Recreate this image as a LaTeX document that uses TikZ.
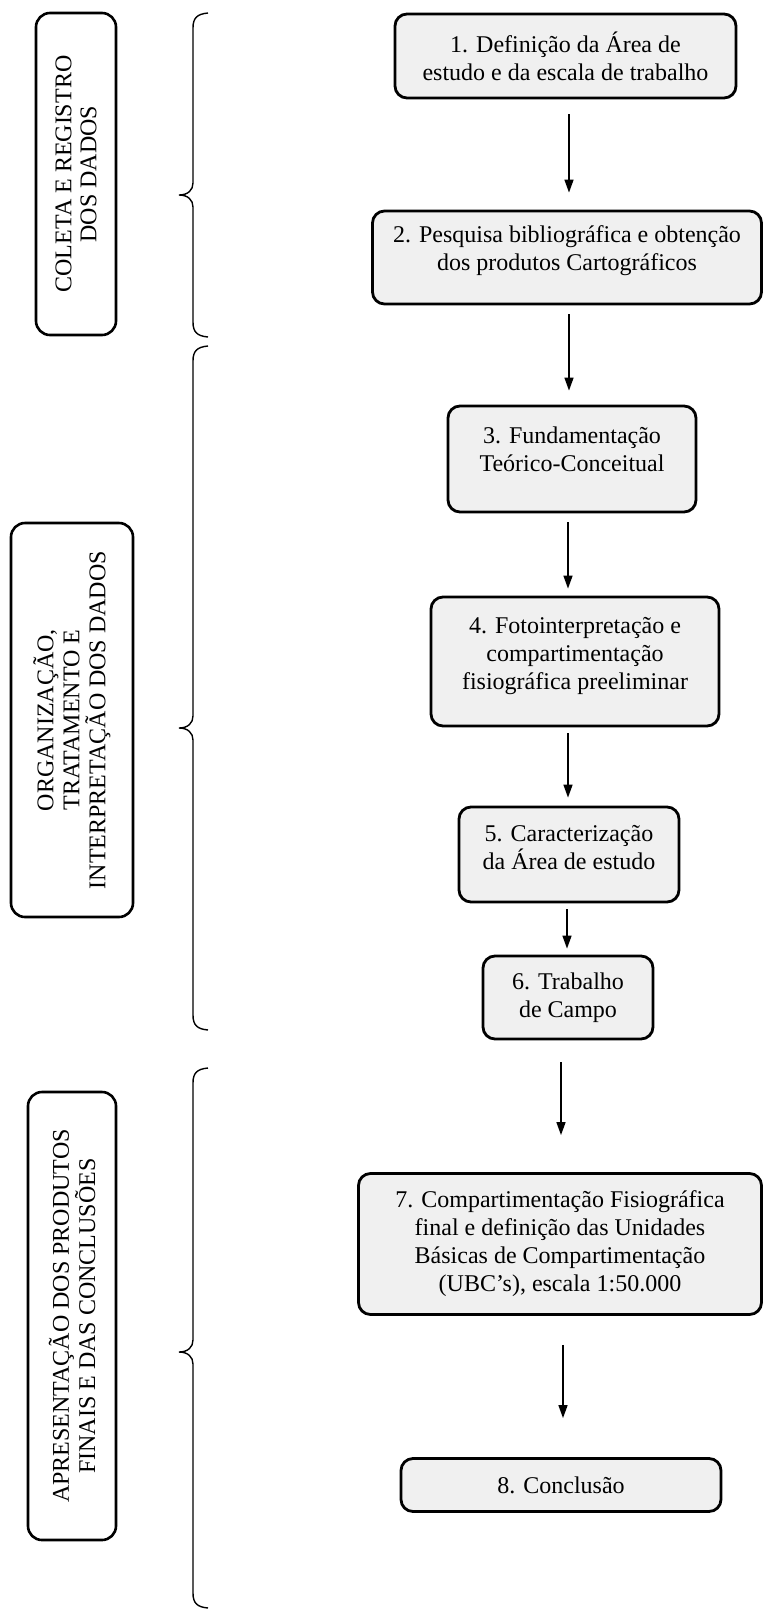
\documentclass[tikz,border=0pt]{standalone}
\usepackage{fontspec}
\setmainfont{Liberation Serif}
\usetikzlibrary{arrows.meta}
\tikzset{
  stepbox/.style={draw=black, line width=2.8pt, fill=gray!12, rounded corners=12pt,
    align=center, inner sep=2pt, font=\fontsize{24}{28}\selectfont},
  sidebox/.style={draw=black, line width=2.6pt, fill=white, rounded corners=14pt,
    align=center, inner sep=2pt, rotate=90},
  arr/.style={line width=1.5pt, -{Triangle[length=13pt,width=9pt]}},
  brc/.style={line width=1.4pt}
}
\newcommand\mybrace[3]{%
  \draw[brc] (208,#1) .. controls (197,#1+1) and (193,#1+5) .. (193,#1+15)
    -- (193,#2-12) .. controls (193,#2-5) and (188,#2) .. (179,#2)
    .. controls (188,#2) and (193,#2+5) .. (193,#2+12)
    -- (193,#3-15) .. controls (193,#3-5) and (197,#3-1) .. (208,#3);}
\begin{document}
\begin{tikzpicture}[x=1pt,y=-1pt]
\useasboundingbox (0,0) rectangle (764,1610);

% side boxes
\node[sidebox, minimum width=322pt, minimum height=80pt,
  font=\fontsize{24}{25}\selectfont] (lb1) at (76,174)
  {COLETA E REGISTRO\\DOS DADOS};
\node[sidebox, minimum width=394pt, minimum height=122pt,
  font=\fontsize{24}{26}\selectfont] (lb2) at (72,720)
  {ORGANIZAÇÃO,\\TRATAMENTO E\\INTERPRETAÇÃO DOS DADOS};
\node[sidebox, minimum width=448pt, minimum height=88pt,
  font=\fontsize{24}{24}\selectfont] (lb3) at (72,1316)
  {APRESENTAÇÃO DOS PRODUTOS\\FINAIS E DAS CONCLUSÕES};

% braces
\mybrace{13}{195}{337}
\mybrace{346}{728}{1030}
\mybrace{1068}{1352}{1608}

% step boxes
\node[stepbox, minimum width=341pt, minimum height=84pt] (b1) at (565.5,56)
  {1. Definição da Área de\\estudo e da escala de trabalho};
\node[stepbox, minimum width=389pt, minimum height=93pt, text depth=18pt] (b2) at (567,257.5)
  {2. Pesquisa bibliográfica e obtenção\\dos produtos Cartográficos};
\node[stepbox, minimum width=248pt, minimum height=106pt, text depth=20pt] (b3) at (572,459)
  {3. Fundamentação\\Teórico-Conceitual};
\node[stepbox, minimum width=288pt, minimum height=129pt, text depth=16pt] (b4) at (575,661.5)
  {4. Fotointerpretação e\\compartimentação\\fisiográfica preeliminar};
\node[stepbox, minimum width=220pt, minimum height=95pt, text depth=14pt] (b5) at (569,854.5)
  {5. Caracterização\\da Área de estudo};
\node[stepbox, minimum width=170pt, minimum height=83pt] (b6) at (568,997.5)
  {6. Trabalho\\de Campo};
\node[stepbox, minimum width=403pt, minimum height=141pt] (b7) at (560,1244)
  {7. Compartimentação Fisiográfica\\final e definição das Unidades\\Básicas de Compartimentação\\(UBC’s), escala 1:50.000};
\node[stepbox, minimum width=320pt, minimum height=53pt] (b8) at (561,1485)
  {8. Conclusão};

% arrows
\draw[arr, shorten <=15pt, shorten >=17pt] (b1.south -| 569,0) -- (b2.north -| 569,0);
\draw[arr, shorten <=9pt, shorten >=14pt] (b2.south -| 569,0) -- (b3.north -| 569,0);
\draw[arr, shorten <=9pt, shorten >=7pt] (b3.south -| 568,0) -- (b4.north -| 568,0);
\draw[arr, shorten <=6pt, shorten >=8pt] (b4.south -| 568,0) -- (b5.north -| 568,0);
\draw[arr, shorten <=6pt, shorten >=6pt] (b5.south -| 567,0) -- (b6.north -| 567,0);
\draw[arr, shorten <=22pt, shorten >=37pt] (b6.south -| 561,0) -- (b7.north -| 561,0);
\draw[arr, shorten <=29pt, shorten >=39pt] (b7.south -| 563,0) -- (b8.north -| 563,0);
\end{tikzpicture}
\end{document}
